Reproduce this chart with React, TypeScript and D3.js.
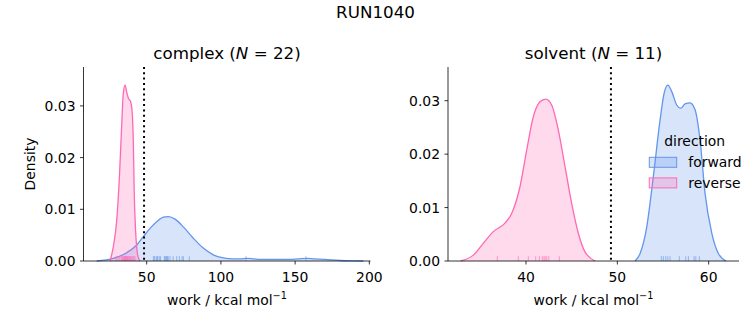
import React from 'react';
import * as d3 from 'd3';

const WIDTH = 753;
const HEIGHT = 325;
const FONT = '"DejaVu Sans", sans-serif';
const FORWARD = '#6495ed';
const REVERSE = '#ff69b4';

// density curves (work in kcal/mol, density)
const complexForwardGrid = [16.3, 27.5, 36.5, 43.3, 47.7, 52.2, 56.7, 61.2, 64.6, 69.1, 74.7, 81.4, 88.1, 94.9, 101.6, 108, 112.9, 117.4, 122, 126.4, 133, 139.8, 146, 152, 157.8, 163, 170, 180.3, 188, 196];
const complexForwardDensity = [0, 0.0005, 0.0016, 0.0031, 0.0047, 0.0063, 0.0076, 0.0085, 0.0086, 0.0081, 0.0066, 0.0044, 0.0025, 0.0012, 0.0006, 0.0004, 0.0004, 0.0005, 0.0004, 0.0003, 0.0003, 0.0003, 0.0003, 0.0004, 0.0005, 0.0004, 0.0003, 0.0001, 0.00003, 0];
const complexReverseGrid = [25.3, 27.5, 29.8, 31.6, 33.1, 34.2, 35.4, 36.5, 37.6, 39.2, 40.1, 41.0, 41.6, 42.6, 43.7, 45.0, 45.6];
const complexReverseDensity = [0, 0.0028, 0.0079, 0.0163, 0.026, 0.0324, 0.034, 0.0327, 0.0315, 0.0308, 0.0292, 0.0228, 0.0131, 0.0054, 0.0015, 0.0002, 0];

const solventForwardGrid = [51.94, 52.49, 53.22, 53.94, 54.68, 55.12, 55.52, 55.96, 56.5, 56.94, 57.41, 57.96, 58.51, 59.06, 59.6, 60.34, 61.06, 61.9];
const solventForwardDensity = [0, 0.0014, 0.0064, 0.0158, 0.0264, 0.0314, 0.0329, 0.0317, 0.0292, 0.0286, 0.0294, 0.0296, 0.0283, 0.0226, 0.0127, 0.0052, 0.0014, 0];
const solventReverseGrid = [32.85, 34.23, 35.32, 36.42, 37.7, 38.43, 39.34, 40.08, 40.8, 41.53, 42.16, 42.81, 43.54, 44.27, 45.0, 45.73, 46.46, 47.56];
const solventReverseDensity = [0, 0.0011, 0.0033, 0.0055, 0.0071, 0.0089, 0.0139, 0.0208, 0.027, 0.0298, 0.0303, 0.0292, 0.0245, 0.0177, 0.0108, 0.0052, 0.0017, 0];

// individual works (rug)
const complexForwardWork = [54.5, 55.2, 56.3, 57.0, 57.4, 58.5, 59.3, 61.9, 62.4, 63.0, 63.5, 63.9, 64.5, 65.7, 67.8, 70.2, 72.0, 73.8, 74.7, 78.7, 116.9, 157.3];
const complexReverseWork = [29.3, 30.5, 31.8, 32.9, 33.5, 34.1, 34.6, 35.0, 35.4, 35.8, 36.1, 36.5, 36.9, 37.3, 37.8, 38.4, 38.9, 39.5, 40.1, 40.7, 41.4, 42.1];
const solventForwardWork = [54.82, 55.04, 55.3, 55.52, 55.77, 56.79, 57.49, 57.78, 58.4, 58.59, 58.98];
const solventReverseWork = [36.86, 39.16, 40.25, 41.06, 41.46, 41.79, 41.97, 42.1, 42.27, 42.5, 43.65];

// free energy estimates (dotted lines)
const complexEstimate = 48.2;
const solventEstimate = 49.3;

const complexTicks = [50, 100, 150, 200];
const solventTicks = [40, 50, 60];
const densityTicks = [0, 0.01, 0.02, 0.03];
const directions = ['forward', 'reverse'];

function Panel(props) {
  const { left, right, top, bottom, xDomain, yMax, xTicks, series, estimate, label, n, yLabel } = props;
  const x = d3.scaleLinear().domain(xDomain).range([left, right]);
  const y = d3.scaleLinear().domain([0, yMax]).range([bottom, top]);
  const line = d3.line().x(d => x(d[0])).y(d => y(d[1])).curve(d3.curveMonotoneX);
  const area = d3.area().x(d => x(d[0])).y0(y(0)).y1(d => y(d[1])).curve(d3.curveMonotoneX);
  const rugH = (bottom - top) * 0.025;
  const cx = (left + right) / 2;

  return (
    <g>
      {series.map((s, i) => {
        const pts = s.grid.map((g, j) => [g, s.density[j]]);
        return (
          <g key={i}>
            <path d={area(pts)} fill={s.color} fillOpacity={0.25} stroke="none" />
            <path d={line(pts)} fill="none" stroke={s.color} strokeWidth={1.3} />
            {s.work.map((w, k) => (
              <line key={k} x1={x(w)} x2={x(w)} y1={bottom} y2={bottom - rugH}
                stroke={s.color} strokeOpacity={0.6} strokeWidth={1} />
            ))}
          </g>
        );
      })}
      <line x1={x(estimate)} x2={x(estimate)} y1={top} y2={bottom}
        stroke="#000" strokeWidth={2} strokeDasharray="2,3.3" />

      <line x1={left} x2={left} y1={top} y2={bottom} stroke="#000" strokeWidth={0.8} />
      <line x1={left} x2={right} y1={bottom} y2={bottom} stroke="#000" strokeWidth={0.8} />
      {xTicks.map(t => (
        <g key={t}>
          <line x1={x(t)} x2={x(t)} y1={bottom} y2={bottom + 3.5} stroke="#000" strokeWidth={0.8} />
          <text x={x(t)} y={bottom + 20.7} textAnchor="middle" fontSize={13.9}>{t}</text>
        </g>
      ))}
      {densityTicks.map(t => (
        <g key={t}>
          <line x1={left - 3.5} x2={left} y1={y(t)} y2={y(t)} stroke="#000" strokeWidth={0.8} />
          <text x={left - 8} y={y(t) + 5} textAnchor="end" fontSize={13.9}>{d3.format('.2f')(t)}</text>
        </g>
      ))}

      <text x={cx} y={59} textAnchor="middle" fontSize={16.7}>
        {label} (<tspan fontStyle="italic">N</tspan> = {n})
      </text>
      <text x={cx} y={305} textAnchor="middle" fontSize={13.9}>
        work / kcal mol<tspan dy={-6} fontSize={9.7}>−1</tspan>
      </text>
      {yLabel && (
        <text transform={`translate(${left - 49},${(top + bottom) / 2}) rotate(-90)`}
          textAnchor="middle" fontSize={13.9}>Density</text>
      )}
    </g>
  );
}

export default function App() {
  const complexSeries = [
    { grid: complexForwardGrid, density: complexForwardDensity, work: complexForwardWork, color: FORWARD },
    { grid: complexReverseGrid, density: complexReverseDensity, work: complexReverseWork, color: REVERSE },
  ];
  const solventSeries = [
    { grid: solventForwardGrid, density: solventForwardDensity, work: solventForwardWork, color: FORWARD },
    { grid: solventReverseGrid, density: solventReverseDensity, work: solventReverseWork, color: REVERSE },
  ];
  const colors = [FORWARD, REVERSE];

  return (
    <svg width={WIDTH} height={HEIGHT} fontFamily={FONT}
      style={{ position: 'absolute', left: 0, top: 0, background: '#fff' }}>
      <rect width={WIDTH} height={HEIGHT} fill="#fff" />
      <text x={375.5} y={18.3} textAnchor="middle" fontSize={16.7}>RUN1040</text>
      <Panel left={83.5} right={370.5} top={67} bottom={261} xDomain={[7.4, 200.8]} yMax={0.03752}
        xTicks={complexTicks} series={complexSeries} estimate={complexEstimate}
        label="complex" n={complexForwardWork.length} yLabel />
      <Panel left={448} right={739} top={67} bottom={261} xDomain={[31.46, 63.32]} yMax={0.03631}
        xTicks={solventTicks} series={solventSeries} estimate={solventEstimate}
        label="solvent" n={solventForwardWork.length} />
      <g>
        <text x={694.7} y={145.7} textAnchor="middle" fontSize={13.9}>direction</text>
        {directions.map((d, i) => (
          <g key={d}>
            <rect x={649.3} y={157.3 + i * 20.6} width={27.4} height={10}
              fill={colors[i]} fillOpacity={0.25} stroke={colors[i]} strokeWidth={1} />
            <text x={688.3} y={167.3 + i * 20.6} fontSize={13.9}>{d}</text>
          </g>
        ))}
      </g>
    </svg>
  );
}
